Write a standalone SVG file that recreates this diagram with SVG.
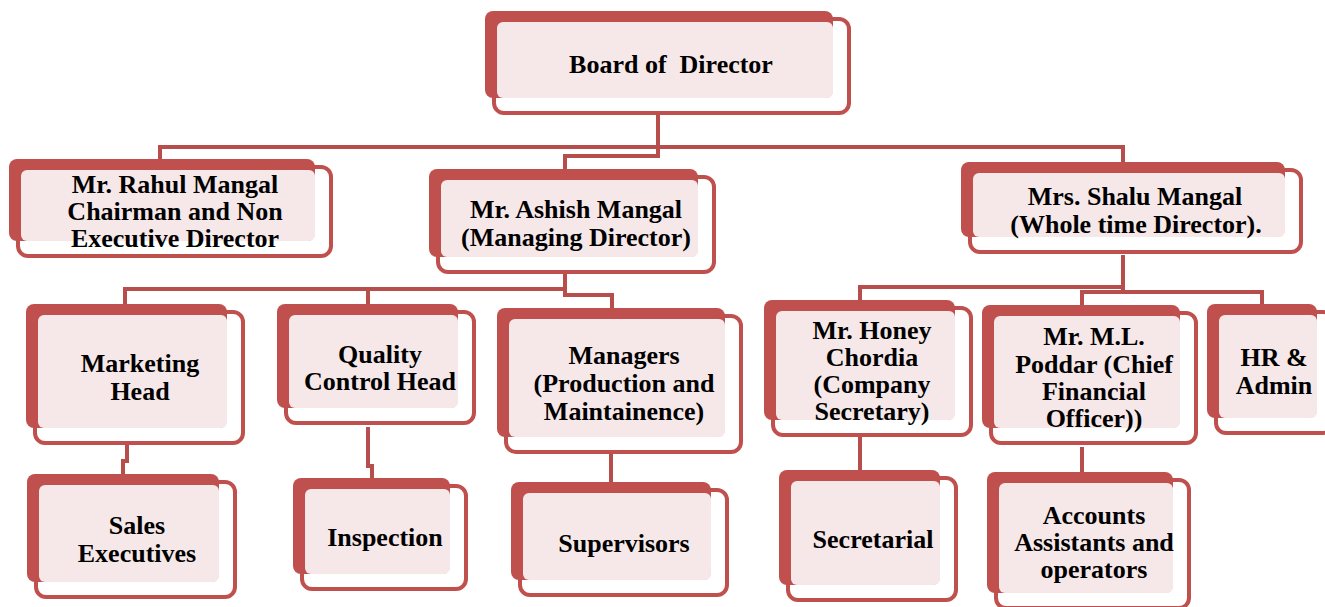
<svg xmlns="http://www.w3.org/2000/svg" width="1325" height="607" viewBox="0 0 1325 607">
<style>
.o{fill:#ffffff;stroke:#c0504d;stroke-width:4}
.d{fill:#c0504d}
.p{fill:#f6e8e8}
.t{font-family:"Liberation Serif","Times New Roman",serif;font-weight:bold;font-size:26px;fill:#000;text-anchor:middle;white-space:pre}
.c{fill:none;stroke:#b84e4b;stroke-width:4}
</style>
<rect width="1325" height="607" fill="#ffffff"/>
<g id="connectors">
<polyline class="c" points="658,112 658,147"/>
<polyline class="c" points="160,159 160,147 1123,147 1123,162"/>
<polyline class="c" points="658,147 658,156 565,156 565,169"/>
<polyline class="c" points="565,273 565,289 125,289 125,304"/>
<polyline class="c" points="368,289 368,304"/>
<polyline class="c" points="565,289 565,295 612,295 612,308"/>
<polyline class="c" points="127,445 127,461 123,461 123,474"/>
<polyline class="c" points="368,427 368,466 372,466 372,478"/>
<polyline class="c" points="611,453 611,482"/>
<polyline class="c" points="1123,255 1123,287 860,287 860,300"/>
<polyline class="c" points="1123,287 1123,292 1082,292 1082,305"/>
<polyline class="c" points="1123,292 1262,292 1262,304"/>
<polyline class="c" points="860,437 860,470"/>
<polyline class="c" points="1082,447 1082,472"/>
</g>
<g id="board">
<rect class="o" x="494" y="19" width="355" height="94" rx="10"/>
<rect class="d" x="485" y="11" width="348" height="87" rx="8"/>
<rect class="p" x="497" y="22" width="336" height="76" rx="6"/>
<text class="t" x="671" y="73" xml:space="preserve">Board of  Director</text>
</g>
<g id="rahul">
<rect class="o" x="18" y="167" width="313" height="89" rx="10"/>
<rect class="d" x="9" y="159" width="306" height="82" rx="8"/>
<rect class="p" x="21" y="170" width="294" height="71" rx="6"/>
<text class="t" x="175" y="193">Mr. Rahul Mangal</text>
<text class="t" x="175" y="220">Chairman and Non</text>
<text class="t" x="175" y="247">Executive Director</text>
</g>
<g id="ashish">
<rect class="o" x="438" y="177" width="276" height="95" rx="10"/>
<rect class="d" x="429" y="169" width="269" height="88" rx="8"/>
<rect class="p" x="441" y="180" width="257" height="77" rx="6"/>
<text class="t" x="576" y="218">Mr. Ashish Mangal</text>
<text class="t" x="576" y="246">(Managing Director)</text>
</g>
<g id="shalu">
<rect class="o" x="970" y="170" width="331" height="82" rx="10"/>
<rect class="d" x="961" y="162" width="324" height="75" rx="8"/>
<rect class="p" x="973" y="173" width="312" height="64" rx="6"/>
<text class="t" x="1135" y="205">Mrs. Shalu Mangal</text>
<text class="t" x="1136" y="233">(Whole time Director).</text>
</g>
<g id="marketing">
<rect class="o" x="35" y="312" width="208" height="131" rx="10"/>
<rect class="d" x="26" y="304" width="201" height="124" rx="8"/>
<rect class="p" x="38" y="315" width="189" height="113" rx="6"/>
<text class="t" x="140" y="372">Marketing</text>
<text class="t" x="140" y="400">Head</text>
</g>
<g id="quality">
<rect class="o" x="286" y="312" width="188" height="111" rx="10"/>
<rect class="d" x="277" y="304" width="181" height="104" rx="8"/>
<rect class="p" x="289" y="315" width="169" height="93" rx="6"/>
<text class="t" x="380" y="363">Quality</text>
<text class="t" x="380" y="390">Control Head</text>
</g>
<g id="managers">
<rect class="o" x="506" y="316" width="235" height="136" rx="10"/>
<rect class="d" x="497" y="308" width="228" height="129" rx="8"/>
<rect class="p" x="509" y="319" width="216" height="118" rx="6"/>
<text class="t" x="624" y="364">Managers</text>
<text class="t" x="624" y="392">(Production and</text>
<text class="t" x="624" y="420">Maintainence)</text>
</g>
<g id="honey">
<rect class="o" x="773" y="308" width="198" height="127" rx="10"/>
<rect class="d" x="764" y="300" width="191" height="120" rx="8"/>
<rect class="p" x="776" y="311" width="179" height="109" rx="6"/>
<text class="t" x="872" y="339">Mr. Honey</text>
<text class="t" x="872" y="366">Chordia</text>
<text class="t" x="872" y="393">(Company</text>
<text class="t" x="872" y="420">Secretary)</text>
</g>
<g id="poddar">
<rect class="o" x="991" y="313" width="205" height="130" rx="10"/>
<rect class="d" x="982" y="305" width="198" height="123" rx="8"/>
<rect class="p" x="994" y="316" width="186" height="112" rx="6"/>
<text class="t" x="1094" y="345">Mr. M.L.</text>
<text class="t" x="1094" y="373">Poddar (Chief</text>
<text class="t" x="1094" y="400">Financial</text>
<text class="t" x="1094" y="427">Officer))</text>
</g>
<g id="hr">
<rect class="o" x="1216" y="312" width="117" height="121" rx="10"/>
<rect class="d" x="1207" y="304" width="110" height="114" rx="8"/>
<rect class="p" x="1219" y="315" width="98" height="103" rx="6"/>
<text class="t" x="1274" y="366">HR &amp;</text>
<text class="t" x="1274" y="394">Admin</text>
</g>
<g id="sales">
<rect class="o" x="36" y="482" width="199" height="115" rx="10"/>
<rect class="d" x="27" y="474" width="192" height="108" rx="8"/>
<rect class="p" x="39" y="485" width="180" height="97" rx="6"/>
<text class="t" x="137" y="534">Sales</text>
<text class="t" x="137" y="562">Executives</text>
</g>
<g id="inspection">
<rect class="o" x="302" y="486" width="164" height="103" rx="10"/>
<rect class="d" x="293" y="478" width="157" height="96" rx="8"/>
<rect class="p" x="305" y="489" width="145" height="85" rx="6"/>
<text class="t" x="385" y="546">Inspection</text>
</g>
<g id="supervisors">
<rect class="o" x="520" y="490" width="207" height="105" rx="10"/>
<rect class="d" x="511" y="482" width="200" height="98" rx="8"/>
<rect class="p" x="523" y="493" width="188" height="87" rx="6"/>
<text class="t" x="624" y="552">Supervisors</text>
</g>
<g id="secretarial">
<rect class="o" x="788" y="478" width="168" height="122" rx="10"/>
<rect class="d" x="779" y="470" width="161" height="115" rx="8"/>
<rect class="p" x="791" y="481" width="149" height="104" rx="6"/>
<text class="t" x="873" y="548">Secretarial</text>
</g>
<g id="accounts">
<rect class="o" x="996" y="480" width="193" height="128" rx="10"/>
<rect class="d" x="987" y="472" width="186" height="121" rx="8"/>
<rect class="p" x="999" y="483" width="174" height="110" rx="6"/>
<text class="t" x="1094" y="524">Accounts</text>
<text class="t" x="1094" y="551">Assistants and</text>
<text class="t" x="1094" y="578">operators</text>
</g>
</svg>
